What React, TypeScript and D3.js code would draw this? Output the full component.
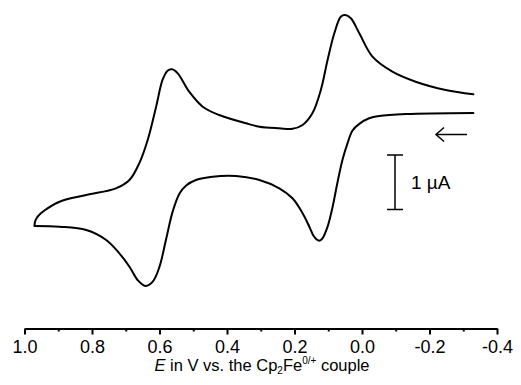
import { useEffect, useRef } from 'react'
import * as d3 from 'd3'

// potential (V vs Cp2Fe0/+) and current (µA), in scan order: start at -0.33 V, sweep to +0.97 V and back
const potential = [
  -0.330, -0.130, -0.051, -0.021, 0.008, 0.028, 0.043, 0.058, 0.073, 0.087, 0.102, 0.117, 0.127, 0.142,
  0.156, 0.176, 0.206, 0.245, 0.304, 0.373, 0.443, 0.492, 0.521, 0.541, 0.561, 0.581, 0.600, 0.620,
  0.642, 0.665, 0.689, 0.719, 0.758, 0.817, 0.896, 0.970,
  0.969, 0.961, 0.941, 0.896, 0.817, 0.729, 0.689, 0.660, 0.635, 0.610, 0.591, 0.576, 0.563, 0.546, 0.512,
  0.472, 0.423, 0.344, 0.304, 0.245, 0.206, 0.176, 0.147, 0.122, 0.102, 0.082, 0.063, 0.050, 0.033,
  0.008, -0.031, -0.090, -0.159, -0.248, -0.330
]
const current = [
  0.00, -0.02, -0.055, -0.097, -0.20, -0.32, -0.556, -0.862, -1.284, -1.719, -2.086, -2.299, -2.343, -2.270,
  -2.086, -1.840, -1.565, -1.382, -1.229, -1.156, -1.169, -1.229, -1.330, -1.480, -1.810, -2.330, -2.820, -3.095,
  -3.174, -3.064, -2.820, -2.574, -2.330, -2.147, -2.086, -2.073,
  -2.00, -1.90, -1.79, -1.628, -1.505, -1.382, -1.229, -0.923, -0.495, 0.116, 0.606, 0.776, 0.802, 0.728, 0.391,
  0.116, -0.037, -0.189, -0.251, -0.280, -0.290, -0.220, -0.006, 0.422, 0.972, 1.462, 1.767, 1.798, 1.738,
  1.462, 1.033, 0.758, 0.574, 0.422, 0.343
]

const majorTicks = [1.0, 0.8, 0.6, 0.4, 0.2, 0.0, -0.2, -0.4]
const minorTicks = [0.9, 0.7, 0.5, 0.3, 0.1, -0.1, -0.3]

// scale bar: 1 µA
const barTop = -0.77
const barSize = 1

export default function App() {
  const ref = useRef<SVGSVGElement>(null)

  useEffect(() => {
    const svg = d3.select(ref.current)
    svg.selectAll('*').remove()

    const x = d3.scaleLinear().domain([1.0, -0.4]).range([24.5, 497])
    const y = d3.scaleLinear().domain([0, 1]).range([113, 58.5])

    const font = "'Liberation Sans', Arial, sans-serif"

    const pts: [number, number][] = potential.map((e, i) => [e, current[i]])
    // split at the switching potential so the turn stays sharp
    const turn = d3.maxIndex(potential)
    const line = d3.line<[number, number]>()
      .x(d => x(d[0]))
      .y(d => y(d[1]))
      .curve(d3.curveCatmullRom.alpha(0.5))

    svg.selectAll('path.cv')
      .data([pts.slice(0, turn + 1), pts.slice(turn)])
      .enter().append('path')
      .attr('class', 'cv')
      .attr('d', d => line(d))
      .attr('fill', 'none')
      .attr('stroke', '#000')
      .attr('stroke-width', 2)
      .attr('stroke-linejoin', 'round')
      .attr('stroke-linecap', 'round')

    // bottom axis
    const axisY = 328.5
    const fmt = (d: number) => d3.format('.1f')(d).replace('−', '-')
    const gx = svg.append('g').attr('transform', `translate(0,${axisY})`)
    gx.call(d3.axisBottom(x).tickValues(majorTicks).tickSize(6).tickSizeOuter(0).tickPadding(6).tickFormat(d => fmt(+d)))
    gx.select('.domain').attr('stroke-width', 2)
    gx.selectAll('.tick line').attr('stroke-width', 2)
    gx.selectAll('.tick text')
      .attr('font-family', font)
      .attr('font-size', 18)
      .attr('fill', '#000')
    const gm = svg.append('g').attr('transform', `translate(0,${axisY})`)
    gm.call(d3.axisBottom(x).tickValues(minorTicks).tickSize(3).tickSizeOuter(0).tickFormat(() => ''))
    gm.select('.domain').remove()
    gm.selectAll('.tick line').attr('stroke-width', 2)

    // axis title
    const t = svg.append('text')
      .attr('x', 262)
      .attr('y', 371)
      .attr('text-anchor', 'middle')
      .attr('font-family', font)
      .attr('font-size', 16.5)
      .attr('fill', '#000')
    t.append('tspan').attr('font-style', 'italic').text('E')
    t.append('tspan').text(' in V vs. the Cp')
    t.append('tspan').attr('font-size', 10).attr('dy', 3).text('2')
    t.append('tspan').attr('dy', -3).text('Fe')
    t.append('tspan').attr('font-size', 10).attr('dy', -7).text('0/+')
    t.append('tspan').attr('dy', 7).text(' couple')

    // scan direction arrow
    const ay = 134.5
    svg.append('line')
      .attr('x1', 436).attr('x2', 467).attr('y1', ay).attr('y2', ay)
      .attr('stroke', '#000').attr('stroke-width', 1.5)
    svg.append('path')
      .attr('d', `M444,${ay - 7}L436,${ay}L444,${ay + 7}`)
      .attr('fill', 'none').attr('stroke', '#000').attr('stroke-width', 1.5)

    // scale bar
    const bx = 395
    const b0 = y(barTop)
    const b1 = y(barTop - barSize)
    svg.append('path')
      .attr('d', `M${bx},${b0}V${b1}M${bx - 8},${b0}H${bx + 8}M${bx - 8},${b1}H${bx + 8}`)
      .attr('fill', 'none').attr('stroke', '#000').attr('stroke-width', 1.5)
    svg.append('text')
      .attr('x', 411)
      .attr('y', (b0 + b1) / 2 + 7)
      .attr('font-family', font)
      .attr('font-size', 19)
      .attr('fill', '#000')
      .text('1 µA')
  }, [])

  return (
    <svg
      ref={ref}
      width={521}
      height={385}
      style={{ position: 'absolute', left: 0, top: 0, background: '#fff' }}
    />
  )
}
